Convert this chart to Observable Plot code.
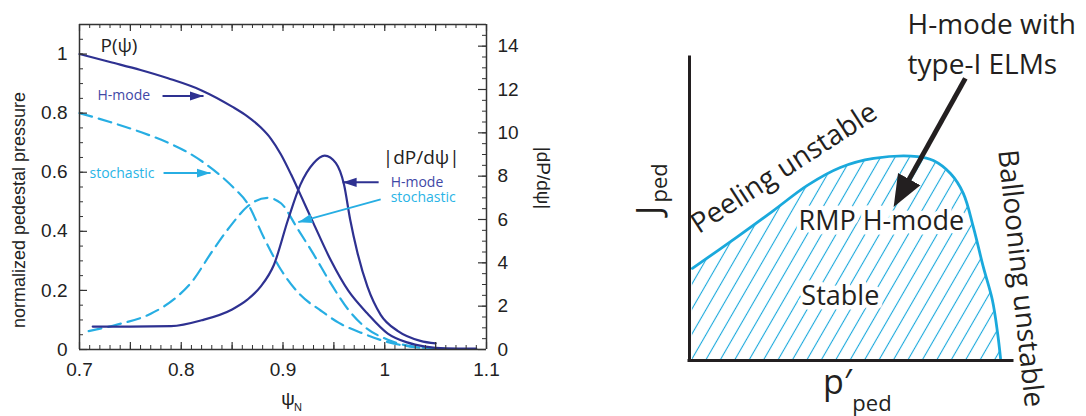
<!DOCTYPE html>
<html><head><meta charset="utf-8">
<script src="https://cdn.jsdelivr.net/npm/d3@7"></script>
<script src="https://cdn.jsdelivr.net/npm/@observablehq/plot@0.6"></script>
<style>
html,body{margin:0;padding:0;background:#fff;}
#wrap{position:relative;width:1086px;height:416px;overflow:hidden;background:#fff;}
#left{position:absolute;left:0;top:0;z-index:1;}
#ov{position:absolute;left:0;top:0;z-index:3;pointer-events:none;}
#right{position:absolute;left:560px;top:0;z-index:1;}
svg{display:block;}
</style></head><body><div id="wrap"><div id="left"></div><div id="right"></div><div id="ov"></div></div>
<script>
// ---------- Left panel data ----------
// P(psi), H-mode (solid)
const psiPressureH = [0.70,0.73,0.76,0.787,0.82,0.85,0.865,0.878,0.888,0.898,0.908,0.917,0.93,0.947,0.964,0.983,1.003,1.022,1.04,1.06,1.09];
const pressureH    = [1.0,0.973,0.946,0.918,0.877,0.822,0.789,0.752,0.714,0.66,0.592,0.525,0.427,0.302,0.200,0.122,0.054,0.024,0.01,0.004,0.003];
// P(psi), stochastic (dashed)
const psiPressureS = [0.70,0.73,0.76,0.787,0.806,0.832,0.851,0.865,0.881,0.898,0.917,0.937,0.955,0.978,1.0,1.025,1.05];
const pressureS    = [0.80,0.77,0.736,0.70,0.668,0.607,0.549,0.495,0.38,0.27,0.185,0.132,0.09,0.055,0.028,0.01,0.003];
// |dP/dpsi|, H-mode (solid, right axis)
const psiGradH = [0.713,0.75,0.79,0.82,0.85,0.865,0.878,0.891,0.905,0.917,0.930,0.941,0.952,0.960,0.966,0.973,0.983,0.996,1.013,1.035,1.05];
const gradH    = [1.06,1.06,1.08,1.35,1.85,2.3,2.9,3.9,6.0,7.6,8.6,8.95,8.6,7.6,6.0,4.5,2.9,1.6,0.85,0.4,0.28];
// |dP/dpsi|, stochastic (dashed, right axis)
const psiGradS = [0.709,0.737,0.77,0.795,0.81,0.83,0.85,0.865,0.885,0.898,0.914,0.930,0.947,0.964,0.979,1.003,1.03,1.06];
const gradS    = [0.85,1.15,1.65,2.4,3.1,4.5,5.8,6.6,7.0,6.75,5.6,4.4,3.05,1.85,1.1,0.45,0.12,0.03];

const xDomain = [0.7, 1.1];
const yDomain = [0, 1.1];
const xTicks = [0.7,0.8,0.9,1,1.1];
const xTickLabels = ["0.7","0.8","0.9","1","1.1"];
const yTicks = [0,0.2,0.4,0.6,0.8,1];
const yTickLabels = ["0","0.2","0.4","0.6","0.8","1"];
const y2Ticks = [0,2,4,6,8,10,12,14];
const y2TickLabels = ["0","2","4","6","8","10","12","14"];

const leftTexts = ["P(ψ)","H-mode","stochastic","|dP/dψ|","H-mode","stochastic"];
const leftTextX = [0.7206,0.7177,0.7098,0.998,1.0058,1.0058];
const leftTextY = [1.027,0.858,0.597,0.65,0.566,0.515];
const leftTextKind = ["title","h","s","title","h","s"];

const arrowX1 = [0.7816,0.7826,0.994,0.996];
const arrowY1 = [0.858,0.597,0.566,0.508];
const arrowX2 = [0.8219,0.8288,0.9586,0.915];
const arrowY2 = [0.858,0.597,0.566,0.431];
const arrowKind = ["h","s","h","s"];

// ---------- Right panel data (schematic, normalized p'_ped / J_ped) ----------
const boundaryP = [0.009,0.149,0.260,0.365,0.467,0.570,0.706,0.755,0.808,0.848,0.879,0.910,0.938,0.954,0.963];
const boundaryJ = [0.304,0.409,0.495,0.578,0.637,0.667,0.673,0.660,0.617,0.551,0.439,0.307,0.198,0.089,0.007];

const rightTexts = ["RMP H-mode","Stable"];
const rightTextX = [0.594,0.467];
const rightTextY = [0.459,0.211];

// ---------- styles ----------
const navy = "#2e3191", navyText = "#3f48a6", cyan = "#27aee3", cyanText = "#2ab4e6";
const ink = "#231f20", cyan2 = "#1aa9dc", axisInk = "#333";
const k = 1.1 / 15; // right axis units -> left axis units

const mL = 79, mR = 74, mT = 24, mB = 67, W1 = 560, H = 416;

const xMinor = d3.range(70, 111).map(i => i / 100);
const xMajor = d3.range(14, 23).map(i => i * 0.05);
const yMinor = d3.range(0, 23).map(i => i * 0.05);
const y2Minor = d3.range(0, 31).map(i => i * 0.5 * k);

const fmt = (vals, labels) => d => { const i = vals.findIndex(v => Math.abs(v - d) < 1e-9); return i < 0 ? "" : labels[i]; };

const left = Plot.plot({
  width: W1, height: H,
  marginLeft: mL, marginRight: mR, marginTop: mT, marginBottom: mB,
  style: {fontFamily: "'Liberation Sans', Arial, sans-serif", fontSize: "19px", color: "#222", background: "white"},
  x: {domain: xDomain},
  y: {domain: yDomain},
  marks: [
    // tick labels
    Plot.axisX(xTicks, {tickSize: 0, tickPadding: 13, tickFormat: fmt(xTicks, xTickLabels), label: null, fontSize: 19}),
    Plot.axisY(yTicks, {anchor: "left", tickSize: 0, tickPadding: 12, tickFormat: fmt(yTicks, yTickLabels), label: null, fontSize: 19}),
    Plot.axisY(y2Ticks.map(v => v * k), {anchor: "right", tickSize: 0, tickPadding: 11, tickFormat: fmt(y2Ticks.map(v => v * k), y2TickLabels), label: null, fontSize: 19}),
    // axis titles
    Plot.text(["normalized pedestal pressure"], {frameAnchor: "left", dx: -60, dy: 23, rotate: -90, textAnchor: "middle", lineAnchor: "middle", fontSize: 18, fill: "#222"}),
    Plot.text(["|dP/dψ|"], {frameAnchor: "right", dx: 57, dy: -9, rotate: 90, textAnchor: "middle", lineAnchor: "middle", fontSize: 19, fill: "#222"}),
    Plot.text(["ψ"], {frameAnchor: "bottom", dx: 5, dy: 49, textAnchor: "middle", lineAnchor: "middle", fontSize: 19, fill: "#222"}),
    Plot.text(["N"], {frameAnchor: "bottom", dx: 15, dy: 58, textAnchor: "middle", lineAnchor: "middle", fontSize: 11, fill: "#222"}),
    // curves
    Plot.line(pressureS, {x: psiPressureS, y: pressureS, stroke: cyan, strokeWidth: 2.2, strokeDasharray: "13,7", curve: "monotone-x"}),
    Plot.line(gradS, {x: psiGradS, y: gradS.map(v => v * k), stroke: cyan, strokeWidth: 2.2, strokeDasharray: "13,7", curve: "monotone-x"}),
    Plot.line(pressureH, {x: psiPressureH, y: pressureH, stroke: navy, strokeWidth: 2.2, curve: "monotone-x"}),
    Plot.line(gradH, {x: psiGradH, y: gradH.map(v => v * k), stroke: navy, strokeWidth: 2.2, curve: "monotone-x"}),
    // annotations
    Plot.text(leftTexts, {
      x: leftTextX, y: leftTextY, text: leftTexts, textAnchor: "start", lineAnchor: "middle",
      fill: leftTextKind.map(t => t === "h" ? navyText : t === "s" ? cyanText : "#222"),
      fontSize: leftTextKind.map(t => t === "title" ? 19 : 14),
      fontFamily: "'Open Sans', 'Liberation Sans', sans-serif"
    }),
    Plot.link(arrowKind, {x1: arrowX1, y1: arrowY1, x2: arrowX2, y2: arrowY2,
      stroke: arrowKind.map(t => t === "h" ? navy : cyan), strokeWidth: 2, markerEnd: "arrow"})
  ]
});

// Frame box and inward ticks, drawn on a transparent layer with the same scales
const overlay = Plot.plot({
  width: W1, height: H,
  marginLeft: mL, marginRight: mR, marginTop: mT, marginBottom: mB,
  style: {background: "transparent"},
  x: {domain: xDomain, axis: null},
  y: {domain: yDomain, axis: null},
  marks: [
    Plot.ruleX(xMinor, {x: d => d, y1: yDomain[0], y2: yDomain[0], insetTop: -4, stroke: axisInk, strokeWidth: 1}),
    Plot.ruleX(xMajor, {x: d => d, y1: yDomain[0], y2: yDomain[0], insetTop: -7, stroke: axisInk, strokeWidth: 1.2}),
    Plot.ruleX(xMinor, {x: d => d, y1: yDomain[1], y2: yDomain[1], insetBottom: -4, stroke: axisInk, strokeWidth: 1}),
    Plot.ruleX(xMajor, {x: d => d, y1: yDomain[1], y2: yDomain[1], insetBottom: -7, stroke: axisInk, strokeWidth: 1.2}),
    Plot.ruleY(yMinor, {y: d => d, x1: xDomain[0], x2: xDomain[0], insetRight: -4, stroke: axisInk, strokeWidth: 1}),
    Plot.ruleY(yTicks, {y: d => d, x1: xDomain[0], x2: xDomain[0], insetRight: -8, stroke: axisInk, strokeWidth: 1.2}),
    Plot.ruleY(y2Minor, {y: d => d, x1: xDomain[1], x2: xDomain[1], insetLeft: -4, stroke: axisInk, strokeWidth: 1}),
    Plot.ruleY(y2Ticks.map(v => v * k), {y: d => d, x1: xDomain[1], x2: xDomain[1], insetLeft: -8, stroke: axisInk, strokeWidth: 1.2}),
    Plot.ruleX(xDomain, {stroke: axisInk, strokeWidth: 1.5}),
    Plot.ruleY(yDomain, {stroke: axisInk, strokeWidth: 1.5})
  ]
});

// ---------- Right panel ----------
const right = Plot.plot({
  width: 526, height: H,
  marginLeft: 129, marginRight: 74, marginTop: 57, marginBottom: 56,
  style: {fontFamily: "'Open Sans', 'Noto Sans', sans-serif", fontSize: "27px", color: ink, background: "white", overflow: "visible"},
  x: {domain: [0, 1], axis: null},
  y: {domain: [0, 1], axis: null},
  marks: [
    Plot.areaY(boundaryJ, {x: boundaryP, y: boundaryJ, curve: "catmull-rom", fill: "url(#hatch)"}),
    Plot.text(rightTexts, {x: rightTextX, y: rightTextY, text: rightTexts, fontSize: 27, fill: ink,
      stroke: "white", strokeWidth: 9, strokeLinejoin: "round", paintOrder: "stroke"}),
    Plot.line(boundaryJ, {x: boundaryP, y: boundaryJ, curve: "catmull-rom", stroke: cyan2, strokeWidth: 2.8}),
    Plot.ruleX([0], {stroke: ink, strokeWidth: 3, strokeLinecap: "square"}),
    Plot.ruleY([0], {stroke: ink, strokeWidth: 3, strokeLinecap: "square"}),
    Plot.text(["Peeling unstable"], {x: [0.2926], y: [0.635], rotate: -33, fontSize: 28, fill: ink}),
    Plot.text(["Ballooning unstable"], {x: [1.025], y: [0.271], rotate: 84, fontSize: 28, fill: ink}),
    Plot.text(["H-mode with", "type-I ELMs"], {x: [0.675, 0.675], y: [1.106, 0.974], textAnchor: "start", fontSize: 28, fill: ink}),
    Plot.text(["J"], {x: [-0.121], y: [0.495], rotate: -90, fontSize: 34, fill: ink}),
    Plot.text(["ped"], {x: [-0.093], y: [0.586], rotate: -90, fontSize: 22, fill: ink}),
    Plot.text(["p′"], {x: [0.458], y: [-0.076], fontSize: 34, fill: ink}),
    Plot.text(["ped"], {x: [0.565], y: [-0.142], fontSize: 22, fill: ink}),
    Plot.link([0], {x1: [0.854], y1: [0.931], x2: [0.647], y2: [0.535], stroke: ink, strokeWidth: 5, markerEnd: "arrow"})
  ]
});

// Filled triangle arrowheads
function fillMarkers(svg, len, half, tip) {
  d3.select(svg).selectAll("marker").each(function () {
    const m = d3.select(this);
    const c = m.attr("stroke");
    m.attr("viewBox", `${-10 + tip} -5 10 10`).attr("markerUnits", "userSpaceOnUse")
     .attr("markerWidth", len).attr("markerHeight", len)
     .attr("refX", 0).attr("refY", 0).attr("fill", c).attr("stroke", "none");
    m.selectAll("*").remove();
    m.append("path").attr("d", `M${-10 + tip},${-half}L${tip},0L${-10 + tip},${half}Z`);
  });
}
fillMarkers(left, 14, 3.3, 0);
fillMarkers(right, 32, 4, 3.1);

// hatch pattern
const defs = d3.select(right).insert("defs", ":first-child");
const pat = defs.append("pattern").attr("id", "hatch").attr("patternUnits", "userSpaceOnUse")
  .attr("width", 12.5).attr("height", 12.5).attr("patternTransform", "rotate(30)");
pat.append("line").attr("x1", 6.25).attr("y1", -1).attr("x2", 6.25).attr("y2", 14).attr("stroke", cyan2).attr("stroke-width", 1.1);

document.getElementById("left").appendChild(left);
document.getElementById("ov").appendChild(overlay);
document.getElementById("right").appendChild(right);
</script></body></html>
